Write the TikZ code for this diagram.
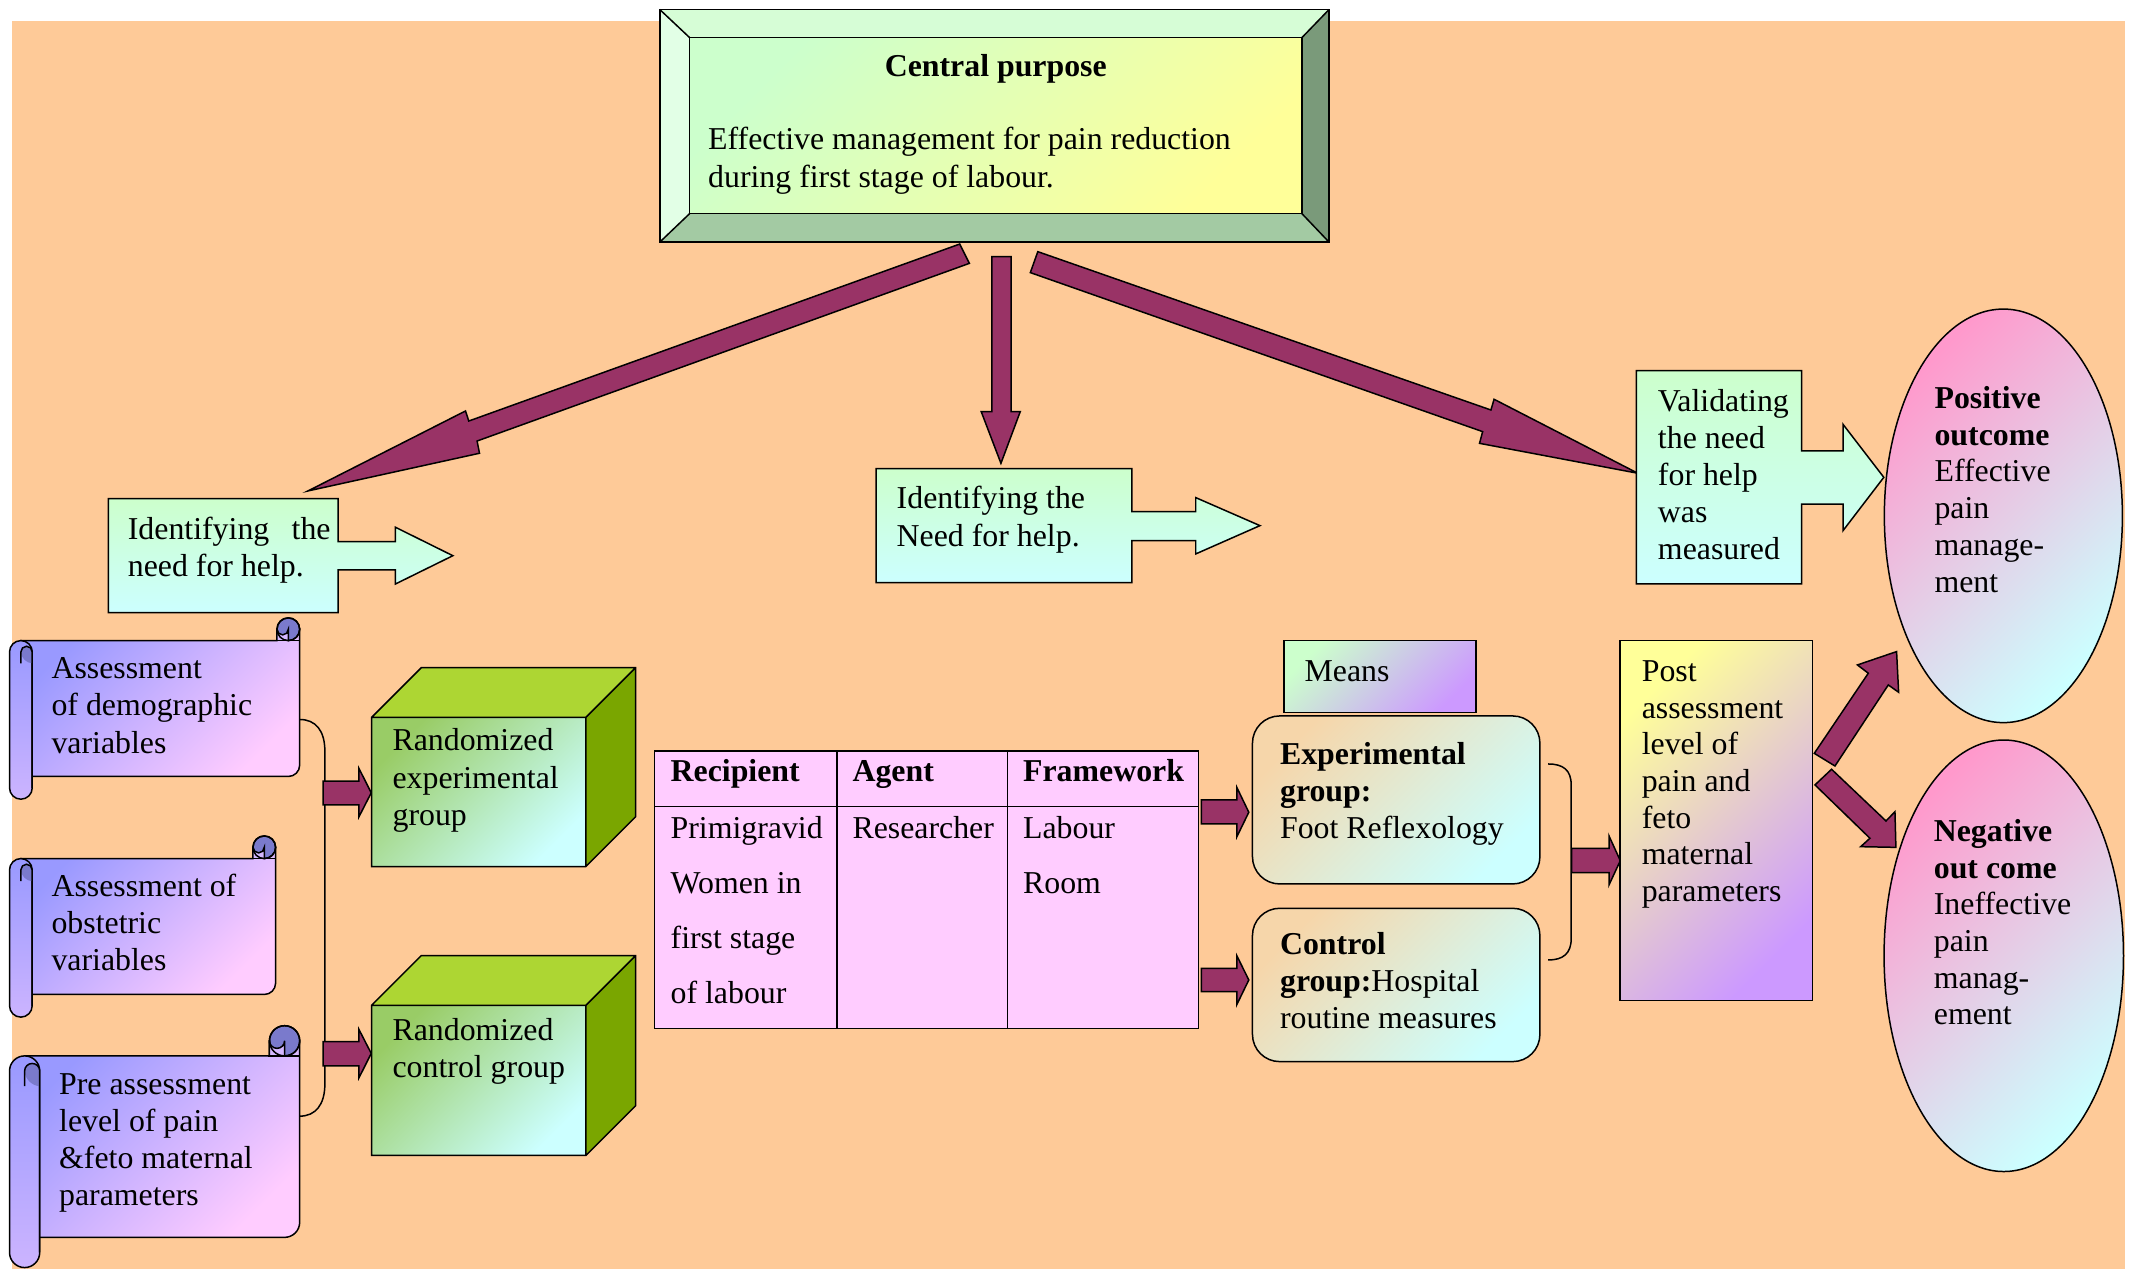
\documentclass[tikz,border=0pt]{standalone}
\usepackage{fontspec}
\setmainfont{Liberation Serif}
\usetikzlibrary{shapes.geometric}
\definecolor{bg}{RGB}{254,202,152}
\definecolor{maroon}{RGB}{153,51,102}
\definecolor{lgreen}{RGB}{204,255,204}
\definecolor{lcyan}{RGB}{204,255,255}
\definecolor{lyellow}{RGB}{255,255,153}
\definecolor{bevT}{RGB}{214,253,214}
\definecolor{bevL}{RGB}{226,255,230}
\definecolor{bevB}{RGB}{163,202,163}
\definecolor{bevR}{RGB}{122,154,122}
\definecolor{cubeTop}{RGB}{173,214,51}
\definecolor{cubeSide}{RGB}{122,166,0}
\definecolor{cubeFront}{RGB}{153,204,102}
\definecolor{scrA}{RGB}{153,153,255}
\definecolor{scrB}{RGB}{255,204,255}
\definecolor{scrMid}{RGB}{212,184,255}
\definecolor{scrRoll}{RGB}{204,180,255}
\definecolor{scrCurl}{RGB}{122,122,204}
\definecolor{tabpink}{RGB}{255,204,255}
\definecolor{epink}{RGB}{255,153,204}
\definecolor{lpurple}{RGB}{204,153,255}
\definecolor{tanbox}{RGB}{246,214,170}

\newcommand\fs{\rule{0pt}{18pt}}
\newcommand\drawscroll[5]{%
 \pgfmathsetmacro\scL{#1}\pgfmathsetmacro\scT{#2}%
 \pgfmathsetmacro\scR{#3}\pgfmathsetmacro\scB{#4}%
 \pgfmathsetmacro\scC{#5}\pgfmathsetmacro\scH{#5/2}\pgfmathsetmacro\scQ{#5/4}%
 % body
 \path[ol,top color=scrA,bottom color=scrB,shading angle=45]
   (\scL+\scH,\scT+\scC) -- (\scR-\scC,\scT+\scC) -- (\scR-\scC,\scT+\scH) -- (\scR,\scT+\scH)
   -- (\scR,\scB-\scC-\scH) arc[start angle=0,end angle=90,radius=\scH]
   -- (\scL+\scH,\scB-\scC) -- cycle;
 % left roll
 \path[ol,top color=scrA,bottom color=scrRoll]
   (\scL,\scT+\scC+\scH) arc[start angle=180,end angle=360,radius=\scH]
   -- (\scL+\scC,\scB-\scH) arc[start angle=0,end angle=180,radius=\scH] -- cycle;
 % left roll inner loop
 \fill[scrCurl] (\scL+\scH,\scT+\scC+\scH) arc[start angle=180,end angle=360,radius=\scQ]
   -- (\scL+\scC,\scT+\scC+\scC) .. controls (\scL+\scH+\scQ,\scT+\scC+\scC) and (\scL+\scH,\scT+\scC+\scH+\scQ) .. cycle;
 \draw[line width=1.1pt] (\scL+\scH,\scT+\scC+\scC) -- (\scL+\scH,\scT+\scC+\scH) arc[start angle=180,end angle=360,radius=\scQ] -- (\scL+\scC,\scB-\scH);
 % top-right curl
 \path[ol,fill=scrCurl] (\scR-\scH,\scT+\scH) circle[radius=\scH];
 \fill[scrMid] (\scR-\scC,\scT+\scH) -- (\scR-\scC,\scT+\scC) -- (\scR-\scH,\scT+\scC) -- (\scR-\scH,\scT+\scH)
   arc[start angle=0,end angle=180,radius=\scQ] -- cycle;
 \draw[line width=1.1pt] (\scR-\scC,\scT+\scH) -- (\scR-\scC,\scT+\scC)
   (\scR-\scH,\scT+\scC) -- (\scR-\scH,\scT+\scH) arc[start angle=0,end angle=180,radius=\scQ];
 \draw[line width=1.1pt] (\scR-\scH,\scT+\scH) circle[radius=\scH];
 \draw[line width=1.1pt] (\scR-\scC-1,\scT+\scC) -- (\scR,\scT+\scC);
}

\begin{document}
\begin{tikzpicture}[x=1pt,y=-1pt,line join=miter,
  ol/.style={draw=black,line width=1.1pt},
  tx/.style={anchor=north west,inner sep=0pt,yshift=-1pt,align=left,font=\fontsize{23.4}{27.3}\selectfont},
  hd/.style={anchor=base west,inner sep=0pt,yshift=-1pt,font=\bfseries\fontsize{23.4}{27.3}\selectfont},
  blockarrow/.style={fill=maroon,draw=black,line width=1.1pt},
  callout/.style={ol,top color=lgreen,bottom color=lcyan},
  bracketline/.style={draw=black,line width=1.1pt}]
\useasboundingbox (0,0) rectangle (1568,933);
\fill[bg] (9,15.4) rectangle (1562,933);

% ---- central purpose (bevel)
\fill[bevT] (485,7) -- (977,7) -- (957,27.7) -- (507,27.7) -- cycle;
\fill[bevL] (485,7) -- (507,27.7) -- (507,157) -- (485,178) -- cycle;
\fill[bevR] (977,7) -- (977,178) -- (957,157) -- (957,27.7) -- cycle;
\fill[bevB] (485,178) -- (507,157) -- (957,157) -- (977,178) -- cycle;
\shade[top color=lgreen,bottom color=lyellow,shading angle=45] (507,27.7) rectangle (957,157);
\draw[ol] (485,7) rectangle (977,178);
\draw[ol] (507,27.7) rectangle (957,157);
\draw[ol] (485,7) -- (507,27.7) (977,7) -- (957,27.7) (485,178) -- (507,157) (977,178) -- (957,157);
\node[hd,anchor=base] (cpt) at (732,55.1) {Central purpose};
\node[tx,font=\fontsize{23.4}{27.7}\selectfont] (cp) at (520.4,91) {\fs Effective management for pain reduction\\during first stage of labour.};

% ---- big arrows
\path[blockarrow] (705.5,179.4) -- (344.6,309.5) -- (342.2,302.1) -- (226.4,360.9) -- (352.5,333.2) -- (350.7,324.2) -- (712.6,193.6) -- cycle;
\path[blockarrow] (729.1,188.7) -- (743.3,188.7) -- (743.3,302.6) -- (750,302.6) -- (735.8,340.6) -- (721.3,302.6) -- (729.1,302.6) -- cycle;
\path[blockarrow] (762.9,185) -- (1096,301.4) -- (1098.3,293.5) -- (1204,347.9) -- (1087.6,325.9) -- (1089.9,317.3) -- (757.4,200.4) -- cycle;

% ---- identifying / validating callouts
\path[callout] (79.7,366.6) -- (248.5,366.6) -- (248.5,398.2) -- (290.7,398.2) -- (290.7,387.6) -- (332.9,408.5) -- (290.7,429.3) -- (290.7,419) -- (248.5,419) -- (248.5,450.4) -- (79.7,450.4) -- cycle;
\node[tx] (idl) at (93.8,377.5) {\fs\makebox[149pt][s]{Identifying the}\\need for help.};
\path[callout] (644,344.5) -- (832,344.5) -- (832,376.1) -- (879,376.1) -- (879,365.8) -- (926.2,386.4) -- (879,407.2) -- (879,397.4) -- (832,397.4) -- (832,428.3) -- (644,428.3) -- cycle;
\node[tx,font=\fontsize{23.4}{28.2}\selectfont] (idm) at (659,354.4) {\fs Identifying the\\Need for help.};
\path[callout] (1202.9,272.5) -- (1324.3,272.5) -- (1324.3,331.5) -- (1354.8,331.5) -- (1354.8,311.9) -- (1384.8,350.9) -- (1354.8,390.1) -- (1354.8,370.5) -- (1324.3,370.5) -- (1324.3,429.3) -- (1202.9,429.3) -- cycle;
\node[tx,font=\fontsize{23.4}{27.1}\selectfont] (val) at (1218.6,283.4) {\fs Validating\\the need\\for help\\was\\measured};

% ---- outcome ellipses
\path[ol,top color=epink,bottom color=lcyan,shading angle=45] (1472.7,379.2) ellipse[x radius=87.5,y radius=152];
\node[tx,font=\fontsize{23.4}{27.06}\selectfont] (pos) at (1421.9,280.9) {\fs\textbf{Positive}\\\textbf{outcome}\\Effective\\pain\\manage-\\ment};
\path[ol,top color=epink,bottom color=lcyan,shading angle=45] (1473,702.6) ellipse[x radius=88,y radius=158.6];
\node[tx,font=\fontsize{23.4}{26.95}\selectfont] (neg) at (1421.4,599.5) {\fs\textbf{Negative}\\\textbf{out come}\\Ineffective\\pain\\manag-\\ement};

% ---- scrolls
\drawscroll{7}{454.2}{220.3}{587.5}{16.7}
\node[tx,font=\fontsize{23.4}{27.45}\selectfont] (s1) at (37.7,479.5) {\fs Assessment\\of demographic\\variables};
\drawscroll{7}{614.5}{202.6}{747.7}{16.65}
\node[tx,font=\fontsize{23.4}{27.15}\selectfont] (s2) at (37.7,640) {\fs Assessment of\\obstetric\\variables};
\drawscroll{7}{754}{220.3}{931.8}{22.2}
\node[tx,font=\fontsize{23.4}{27.2}\selectfont] (s3) at (43.3,785.2) {\fs Pre assessment\\level of pain\\\&feto maternal\\parameters};

% ---- left bracket and arrows
\draw[bracketline] (220.3,528.9) .. controls (232,528.9) and (238.8,537) .. (238.8,552) -- (238.8,797) .. controls (238.8,812) and (232,820.5) .. (220.3,820.5);
\path[blockarrow] (237.6,574.3) -- (263.9,574.3) -- (263.9,564.9) -- (272.9,582.8) -- (263.9,600.4) -- (263.9,591.6) -- (237.6,591.6) -- cycle;
\path[blockarrow] (237.6,765.7) -- (263.9,765.7) -- (263.9,756.8) -- (272.9,774.4) -- (263.9,792.3) -- (263.9,783.5) -- (237.6,783.5) -- cycle;

% ---- cubes
\fill[cubeTop] (273.2,527.3) -- (309.7,490.8) -- (467.2,490.8) -- (430.7,527.3) -- cycle;
\fill[cubeSide] (430.7,527.3) -- (467.2,490.8) -- (467.2,600.5) -- (430.7,637) -- cycle;
\shade[top color=cubeFront,bottom color=lcyan,shading angle=45] (273.2,527.3) rectangle (430.7,637);
\draw[ol] (273.2,527.3) -- (309.7,490.8) -- (467.2,490.8) -- (467.2,600.5) -- (430.7,637) -- (273.2,637) -- cycle (273.2,527.3) -- (430.7,527.3) -- (467.2,490.8) (430.7,527.3) -- (430.7,637);
\node[tx,font=\fontsize{23.4}{27.45}\selectfont] (c1) at (288.4,532.8) {\fs Randomized\\experimental\\group};
\fill[cubeTop] (273.2,739) -- (309.7,702.5) -- (467.2,702.5) -- (430.7,739) -- cycle;
\fill[cubeSide] (430.7,739) -- (467.2,702.5) -- (467.2,812.9) -- (430.7,849.4) -- cycle;
\shade[top color=cubeFront,bottom color=lcyan,shading angle=45] (273.2,739) rectangle (430.7,849.4);
\draw[ol] (273.2,739) -- (309.7,702.5) -- (467.2,702.5) -- (467.2,812.9) -- (430.7,849.4) -- (273.2,849.4) -- cycle (273.2,739) -- (430.7,739) -- (467.2,702.5) (430.7,739) -- (430.7,849.4);
\node[tx,font=\fontsize{23.4}{27.2}\selectfont] (c2) at (288.4,745.5) {\fs Randomized\\control group};

% ---- table
\path[ol,fill=tabpink] (481.2,552) rectangle (881.2,755.9);
\draw[ol] (481.2,593) -- (881.2,593) (615.2,552) -- (615.2,755.9) (740.7,552) -- (740.7,755.9);
\node[hd] (th1) at (492.8,573.4) {Recipient};
\node[hd] (th2) at (626.5,573.4) {Agent};
\node[hd] (th3) at (751.9,573.4) {Framework};
\node[tx,font=\fontsize{23.4}{40.4}\selectfont] (tb1) at (492.8,597) {\fs Primigravid\\Women in\\first stage\\of labour};
\node[tx] (tb2) at (626.5,597) {\fs Researcher};
\node[tx,font=\fontsize{23.4}{40.4}\selectfont] (tb3) at (751.9,597) {\fs Labour\\Room};

\path[blockarrow] (883.2,588) -- (909.3,588) -- (909.3,579) -- (918,597.1) -- (909.3,615) -- (909.3,605.7) -- (883.2,605.7) -- cycle;
\path[blockarrow] (883.2,711.8) -- (909.3,711.8) -- (909.3,702.7) -- (918,720.4) -- (909.3,738.3) -- (909.3,729) -- (883.2,729) -- cycle;

% ---- means, experimental, control
\path[ol,top color=lgreen,bottom color=lpurple,shading angle=45] (943.7,471) rectangle (1084.9,523.9);
\node[tx] (means) at (958.8,481.9) {\fs Means};
\path[ol,rounded corners=20pt,top color=tanbox,bottom color=lcyan,shading angle=45] (920.7,526.3) rectangle (1132,649.8);
\node[tx,font=\fontsize{23.4}{27}\selectfont] (exp) at (940.8,543.1) {\fs\textbf{Experimental}\\\textbf{group:}\\Foot Reflexology};
\path[ol,rounded corners=20pt,top color=tanbox,bottom color=lcyan,shading angle=45] (920.7,667.7) rectangle (1132,780.4);
\node[tx,font=\fontsize{23.4}{27}\selectfont] (ctrl) at (940.8,682.8) {\fs\textbf{Control}\\\textbf{group:}Hospital\\routine measures};

\draw[bracketline] (1138,561.6) .. controls (1149,561.6) and (1155,566) .. (1155,577) -- (1155,690) .. controls (1155,701) and (1149,705.7) .. (1138,705.7);
\path[blockarrow] (1155.4,623.6) -- (1182.8,623.6) -- (1182.8,614.5) -- (1191.1,632.7) -- (1182.8,650.5) -- (1182.8,641.5) -- (1155.4,641.5) -- cycle;

% ---- post assessment
\path[ol,top color=lyellow,bottom color=lpurple,shading angle=45] (1190.7,471) rectangle (1332.2,735.6);
\node[tx,font=\fontsize{23.4}{26.95}\selectfont] (post) at (1206.7,481.9) {\fs Post\\assessment\\level of\\pain and\\feto\\maternal\\parameters};

\path[blockarrow] (1333.7,553.8) -- (1373.4,494.9) -- (1365.4,488.8) -- (1394.2,479) -- (1395.7,508.9) -- (1388.1,503.5) -- (1348.9,563.1) -- cycle;
\path[blockarrow] (1346.4,565.5) -- (1386.4,603.5) -- (1393,596.7) -- (1393.7,622.9) -- (1367.8,622.4) -- (1374.6,616.2) -- (1334.2,577) -- cycle;
\end{tikzpicture}
\end{document}
